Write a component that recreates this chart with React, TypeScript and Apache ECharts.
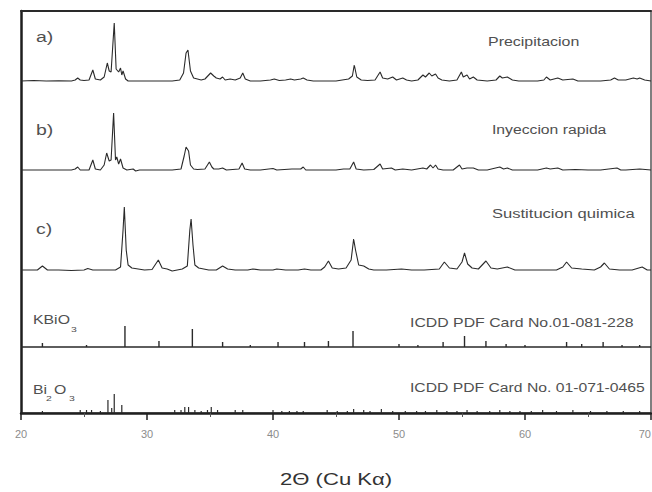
import React, { useEffect, useRef } from "react";
import * as echarts from "echarts";

// 2θ axis
const X_MIN = 20;
const X_MAX = 70;
const X_TICK = 10;

// Pattern a) Precipitacion  [2θ, intensity]
const patternA: [number, number][] = [
  [20, 0], [21, 0.5], [22, 0], [23, 0.3], [24, 0], [24.3, 1], [24.5, 3], [24.7, 1], [25.0, 0.5], [25.4, 1],
  [25.7, 11], [25.9, 2], [26.3, 1], [26.6, 4], [26.85, 18], [27.0, 10], [27.15, 9], [27.4, 58], [27.55, 12],
  [27.75, 9], [27.9, 13], [28.0, 6], [28.1, 10], [28.3, 2], [28.5, 0], [29, 0], [30, 0], [31, 0], [32, 0],
  [32.6, 1], [32.9, 8], [33.1, 28], [33.25, 31], [33.45, 10], [33.7, 3], [34, 2], [34.3, 1], [34.6, 2],
  [34.9, 6], [35.05, 8], [35.3, 5], [35.5, 3], [35.8, 2], [36.0, 4], [36.2, 1], [36.6, 2], [37, 1], [37.4, 3],
  [37.6, 8], [37.8, 2], [38.2, 0], [39, 0], [39.8, 1], [40.1, 2], [40.5, 0.5], [41, 1], [41.4, 2], [41.7, 1],
  [42.2, 2], [42.4, 3], [42.7, 1], [43.2, 0], [44, 0], [45, 0], [45.5, 1], [46.0, 2], [46.3, 5], [46.45, 16],
  [46.65, 4], [47, 1], [47.5, 0.5], [48.1, 1], [48.5, 9], [48.7, 3], [49.1, 2], [49.5, 4], [49.8, 1], [50.3, 3],
  [50.6, 1], [51, 0], [51.5, 1], [51.9, 6], [52.1, 4], [52.4, 8], [52.6, 5], [52.9, 7], [53.1, 3], [53.4, 1],
  [54, 0], [54.6, 1], [54.95, 9], [55.1, 4], [55.4, 6], [55.6, 2], [55.9, 4], [56.2, 1], [57, 0], [57.7, 1],
  [58.0, 5], [58.2, 3], [58.6, 4], [59, 1], [59.5, 0], [60, 0], [61, 0], [61.5, 1], [61.7, 4], [62.0, 1],
  [62.6, 3], [63.0, 1], [63.8, 2], [64.2, 0], [65, 0], [66, 0], [66.8, 1], [67.1, 3], [67.4, 1], [68, 1],
  [68.6, 3], [68.9, 2], [69.1, 3], [69.5, 1], [70, 0],
];

// Pattern b) Inyeccion rapida
const patternB: [number, number][] = [
  [20, 0], [22, 0], [24, 0], [24.3, 1], [24.5, 3], [24.7, 0], [25.4, 0], [25.7, 10], [25.9, 1], [26.3, 0],
  [26.6, 5], [26.8, 17], [27.0, 9], [27.15, 10], [27.35, 57], [27.5, 10], [27.6, 13], [27.75, 6], [27.9, 11],
  [28.1, 2], [28.4, 0], [28.9, 1], [29.1, -1], [29.4, 0], [30, 0], [31, 0], [32, 0], [32.7, 1], [32.95, 14],
  [33.1, 23], [33.3, 19], [33.45, 5], [33.7, 1], [34, 0.5], [34.6, 1], [34.95, 8], [35.15, 3], [35.3, 1],
  [35.7, 1], [36, 2], [36.3, 0], [37.3, 1], [37.55, 7], [37.75, 1], [38.2, 0], [39, 0], [40.0, 1.5], [40.3, 0],
  [41.5, 1], [42.2, 1], [42.4, 3], [42.6, 0], [43, 0], [44, 0], [45, 0], [45.6, 1], [46.1, 1], [46.4, 8],
  [46.6, 1], [47.2, 0], [48, 0.5], [48.5, 6], [48.7, 1], [49.4, 2], [49.7, 0], [50.3, 1], [51, 0], [51.9, 2],
  [52.2, 1], [52.5, 5], [52.7, 2], [52.9, 5], [53.1, 1], [53.5, 0], [54.3, 0], [54.8, 5], [55.0, 1], [55.4, 2],
  [55.9, 2], [56.3, 0], [57, 0], [58.0, 3], [58.3, 1], [58.6, 2], [59, 0], [60, 0], [61, 0], [61.7, 2],
  [62, 1], [62.6, 2], [63, 0], [64, 0.5], [65, 0], [66, 0], [67.3, 2], [67.6, 0], [68, 0], [69.1, 1], [70, 0],
];

// Pattern c) Sustitucion quimica
const patternC: [number, number][] = [
  [20, 0], [21.3, 0], [21.7, 4], [22.1, 0], [23, 0], [24, -0.5], [25.0, 0], [25.3, 1.5], [25.7, 0], [26.5, 0],
  [27.5, 0], [27.9, 3], [28.1, 40], [28.2, 63], [28.35, 20], [28.5, 5], [28.8, 2], [29.3, 1], [29.8, 0],
  [30.4, 0.5], [30.9, 10], [31.2, 2], [31.6, 1], [32.0, -1], [32.4, 0], [32.8, 1], [33.2, 4], [33.4, 40],
  [33.5, 51], [33.65, 25], [33.8, 5], [34.1, 2], [34.5, 1], [34.9, 0], [35.5, 0], [36.0, 4], [36.4, 1],
  [37, 0], [38, 0], [38.4, 1], [39, 0], [40, 0], [40.3, 1], [41, 0], [42, 0], [42.5, 1], [43, 0], [43.8, 0],
  [44.1, 3], [44.4, 9], [44.7, 2], [45.2, 1], [45.8, 2], [46.2, 10], [46.4, 31], [46.55, 20], [46.8, 5],
  [47.2, 4], [47.6, 1], [48, 0], [49, 0], [50.2, 1], [51, 0], [52, 0], [53.2, 1], [53.6, 8], [54.0, 2],
  [54.6, 1], [55.0, 8], [55.2, 17], [55.45, 6], [55.8, 2], [56.3, 1], [56.9, 9], [57.3, 2], [57.8, 1],
  [58.6, 3], [59.2, 0], [60, 0], [61, 0], [62.5, 0], [63.0, 3], [63.3, 8], [63.7, 2], [64.5, 1], [65.5, 0],
  [66.0, 3], [66.3, 7], [66.7, 1], [67.5, 0], [68.5, 0], [69.3, 3], [69.7, 0], [70, 0],
];

// KBiO3 reference lines (ICDD 01-081-228)  [2θ, relative intensity]
const sticksKBiO3: [number, number][] = [
  [21.7, 4], [25.2, 2], [28.25, 21], [30.95, 6], [33.6, 18], [36.0, 5], [38.2, 2], [40.4, 5], [42.5, 5],
  [44.4, 6], [46.35, 16], [50.0, 3], [51.5, 2], [53.5, 5], [55.2, 11], [56.9, 6], [58.5, 3], [60.0, 2],
  [63.3, 5], [64.5, 3], [66.2, 5], [67.7, 2], [69.1, 2],
];

// Bi2O3 reference lines (ICDD 01-071-0465)
const sticksBi2O3: [number, number][] = [
  [21.7, 2], [24.7, 3], [25.2, 3], [25.6, 3], [26.3, 2], [26.9, 13], [27.2, 5], [27.4, 19], [28.0, 8],
  [32.2, 3], [32.7, 3], [33.0, 6], [33.3, 6], [33.8, 3], [34.3, 2], [34.8, 3], [35.1, 6], [35.6, 3],
  [37.0, 3], [37.6, 3], [40.0, 3], [40.7, 2], [41.3, 2], [41.9, 2], [42.4, 2], [44.3, 3], [45.1, 2],
  [45.9, 2], [46.4, 4], [47.2, 3], [47.7, 2], [48.6, 4], [49.5, 2], [50.5, 2], [51.4, 2], [52.1, 2],
  [53.0, 3], [53.8, 2], [54.6, 2], [55.4, 3], [56.2, 2], [57.2, 2], [58.0, 3], [58.8, 2], [59.6, 2],
  [60.5, 2], [61.4, 3], [62.5, 2], [63.8, 3], [65.2, 2], [66.5, 2], [67.8, 2], [69.1, 2],
];

// vertical stacking offsets (layout)
const OFFSET = { a: 332, b: 243, c: 143, k: 66, bi: 0 };
const Y_MAX = 402;

const LINE = "#2a2a2a";
const TXT = "#505050";

function shift(points: [number, number][], off: number) {
  return points.map(([x, y]) => [x, y + off]);
}
function sticks(list: [number, number][], off: number) {
  const out: number[][] = [[X_MIN, off]];
  list.forEach(([x, h]) => {
    out.push([x, off], [x, off + h], [x, off]);
  });
  out.push([X_MAX, off]);
  return out;
}

function lineSeries(data: number[][], width: number) {
  return {
    type: "line",
    data,
    showSymbol: false,
    symbol: "none",
    silent: true,
    lineStyle: { color: LINE, width },
  };
}

function label(text: string, x: number, y: number, size: number, sx: number, fill = TXT) {
  return {
    type: "text",
    x,
    y,
    scaleX: sx,
    style: {
      text,
      fill,
      fontSize: size,
      fontFamily: "Liberation Sans, Arial, sans-serif",
      align: "left",
      verticalAlign: "middle",
    },
    silent: true,
  };
}

export default function App() {
  const ref = useRef<HTMLDivElement>(null);
  useEffect(() => {
    if (!ref.current) return;
    const chart = echarts.init(ref.current, undefined, { renderer: "svg" });
    const option: any = {
      animation: false,
      backgroundColor: "#ffffff",
      grid: {
        left: 21,
        right: 1,
        top: 11,
        bottom: 79,
        containLabel: false,
        outerBoundsMode: "none",
      },
      xAxis: [
        {
          type: "value",
          min: X_MIN,
          max: X_MAX,
          interval: X_TICK,
          position: "bottom",
          axisLine: { show: true, onZero: false, lineStyle: { color: "#1e1e1e", width: 2.5 } },
          axisTick: { show: true, inside: false, length: 7, lineStyle: { color: "#1e1e1e", width: 1.5 } },
          minorTick: { show: true, splitNumber: 2, length: 4, lineStyle: { color: "#555", width: 1 } },
          axisLabel: {
            show: true,
            color: "#8c8c8c",
            fontSize: 11,
            margin: 15,
            fontFamily: "Liberation Sans, Arial, sans-serif",
            hideOverlap: false,
            showMaxLabel: true,
            showMinLabel: true,
            alignMaxLabel: "right",
          },
          splitLine: { show: false },
        },
        {
          type: "value",
          min: X_MIN,
          max: X_MAX,
          position: "top",
          axisLine: { show: true, onZero: false, lineStyle: { color: "#2a2a2a", width: 2 } },
          axisTick: { show: false },
          axisLabel: { show: false },
          splitLine: { show: false },
        },
      ],
      yAxis: [
        {
          type: "value",
          min: 0,
          max: Y_MAX,
          position: "left",
          axisLine: { show: true, onZero: false, lineStyle: { color: "#1e1e1e", width: 2.5 } },
          axisTick: { show: false },
          axisLabel: { show: false },
          splitLine: { show: false },
        },
        {
          type: "value",
          min: 0,
          max: Y_MAX,
          position: "right",
          axisLine: { show: true, onZero: false, lineStyle: { color: "#555", width: 1.5 } },
          axisTick: { show: false },
          axisLabel: { show: false },
          splitLine: { show: false },
        },
      ],
      series: [
        lineSeries(shift(patternA, OFFSET.a), 1.1),
        lineSeries(shift(patternB, OFFSET.b), 1.1),
        lineSeries(shift(patternC, OFFSET.c), 1.1),
        lineSeries(sticks(sticksKBiO3, OFFSET.k), 1.4),
        lineSeries(sticks(sticksBi2O3, OFFSET.bi), 1.2),
      ],
      graphic: [
        label("a)", 36, 37, 15, 1.3),
        label("b)", 36, 130, 15, 1.3),
        label("c)", 36, 229, 15, 1.3),
        label("KBiO", 33, 320, 12, 1.32),
        label("3", 71, 329, 8, 1.3),
        label("Bi", 33, 390, 12, 1.32),
        label("2", 46, 398, 8, 1.3),
        label("O", 54, 390, 12, 1.32),
        label("3", 69, 398, 8, 1.3),
        label("Precipitacion", 488, 42, 12, 1.33),
        label("Inyeccion rapida", 492, 130, 12, 1.31),
        label("Sustitucion quimica", 492, 214, 12, 1.38),
        label("ICDD PDF Card No.01-081-228", 410, 323, 12, 1.32),
        label("ICDD PDF Card No. 01-071-0465", 410, 388, 12, 1.31),
        label("2Θ (Cu Kα)", 280, 479, 17, 1.3, "#333333"),
      ],
    };
    chart.setOption(option);
    return () => chart.dispose();
  }, []);
  return (
    <div
      ref={ref}
      style={{ position: "fixed", left: 0, top: 0, width: 652, height: 492, background: "#fff" }}
    />
  );
}
